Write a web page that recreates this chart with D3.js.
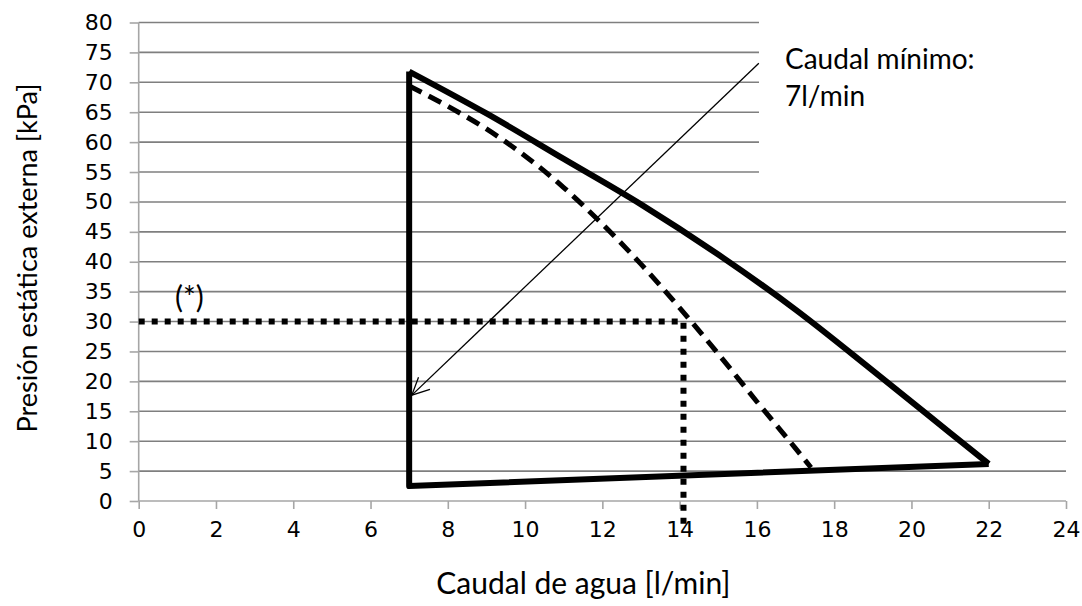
<!DOCTYPE html>
<html><head><meta charset="utf-8">
<script src="https://cdn.jsdelivr.net/npm/d3@7/dist/d3.min.js"></script>
<style>body{margin:0;background:#fff}</style>
</head><body>
<svg id="c" width="1082" height="606"></svg>
<script>
// ---- data ----
const xTickValues = [0,2,4,6,8,10,12,14,16,18,20,22,24];
const yTickValues = [0,5,10,15,20,25,30,35,40,45,50,55,60,65,70,75,80];
// upper limit of the working range (solid)
const upperLimit = [[7,71.8],[9,64.8],[11,57.2],[13,49.6],[15,41.2],[17,32],[19,21.8],[21,11.4],[22,6.2]];
// lower / left limits (solid)
const lowerLimit = [[22,6.2],[7,2.5],[7,71.8]];
// pump curve (dashed)
const pumpCurve = [[7,69.4],[8,66],[9,62.2],[10,57.7],[11,52.4],[12,46.3],[13,39.6],[14,32.3],[15,24.6],[16,16.6],[17,8.8],[17.4,5.6]];
// operating point lines (dotted)
const operatingPoint = [[0,30],[14.1,30],[14.1,-4.8]];
// annotation arrow
const arrowLine = [[16.05,73.2],[7.07,17.7]];
const annotationLines = ["Caudal mínimo:","7l/min"];
const starLabel = "(*)";
const xTitle = "Caudal de agua [l/min]";
const yTitle = "Presión estática externa [kPa]";

const svg = d3.select("#c");
const x = d3.scaleLinear().domain([0,24]).range([138.7,1066]);
const y = d3.scaleLinear().domain([0,80]).range([501,22.5]);

// gridlines
svg.append("g").selectAll("line").data(yTickValues.filter(v=>v>0)).join("line")
  .attr("x1", x(0)).attr("x2", d => d>=55 ? 759 : x(24))
  .attr("y1", d=>y(d)).attr("y2", d=>y(d))
  .attr("stroke","#7f7f7f").attr("stroke-width",1.6);

// axes
const tickFont = "'DejaVu Sans', Verdana, sans-serif";
const yAxis = svg.append("g").attr("transform",`translate(${x(0)},0)`)
  .call(d3.axisLeft(y).tickValues(yTickValues).tickSize(9).tickPadding(17));
const xAxis = svg.append("g").attr("transform",`translate(0,${y(0)})`)
  .call(d3.axisBottom(x).tickValues(xTickValues).tickSize(8).tickPadding(12));
[yAxis,xAxis].forEach(a=>{
  a.selectAll("path,line").attr("stroke","#a6a6a6").attr("stroke-width",1.6);
  a.selectAll("text").style("font-family",tickFont).style("font-size","22px").attr("fill","#000");
});
yAxis.select(".domain").attr("d",`M0,${y(80)}V${y(0)}`);
xAxis.select(".domain").attr("d",`M${x(0)},0H${x(24)}`);

const line = d3.line().x(d=>x(d[0])).y(d=>y(d[1]));

// dotted operating point
svg.append("path").attr("d", line(operatingPoint)).attr("fill","none")
  .attr("stroke","#000").attr("stroke-width",6).attr("stroke-dasharray","6,7");

// solid envelope
svg.append("path").attr("d", line(lowerLimit)).attr("fill","none")
  .attr("stroke","#000").attr("stroke-width",6).attr("stroke-linejoin","round");
svg.append("path").attr("d", d3.line().x(d=>x(d[0])).y(d=>y(d[1])).curve(d3.curveMonotoneX)(upperLimit))
  .attr("fill","none").attr("stroke","#000").attr("stroke-width",6).attr("stroke-linejoin","round");

// dashed pump curve
svg.append("path").attr("d", d3.line().x(d=>x(d[0])).y(d=>y(d[1])).curve(d3.curveMonotoneX)(pumpCurve))
  .attr("fill","none").attr("stroke","#000").attr("stroke-width",5).attr("stroke-dasharray","14,8");

// annotation arrow
const [a0,a1] = arrowLine;
const px0=x(a0[0]), py0=y(a0[1]), px1=x(a1[0]), py1=y(a1[1]);
svg.append("line").attr("x1",px0).attr("y1",py0).attr("x2",px1).attr("y2",py1)
  .attr("stroke","#000").attr("stroke-width",1.3);
const ang = Math.atan2(py0-py1, px0-px1);
const hl = 19, ha = 0.45;
svg.append("path").attr("d",
  `M${px1+hl*Math.cos(ang-ha)},${py1+hl*Math.sin(ang-ha)}L${px1},${py1}L${px1+hl*Math.cos(ang+ha)},${py1+hl*Math.sin(ang+ha)}`)
  .attr("fill","none").attr("stroke","#000").attr("stroke-width",1.3);

const textFont = "Lato, 'Open Sans', sans-serif";
svg.append("g").selectAll("text").data(annotationLines).join("text")
  .attr("x",785).attr("y",(d,i)=>69+i*37).attr("font-family",textFont).attr("font-size",28)
  .attr("fill","#000").text(d=>d);

svg.append("text").attr("x",175).attr("y",308).attr("font-family",textFont).attr("font-size",30)
  .text(starLabel);

svg.append("text").attr("x",(436.7+730)/2).attr("y",594).attr("text-anchor","middle")
  .attr("font-family",textFont).attr("font-size",30).text(xTitle);
svg.append("text").attr("transform",`translate(37,258) rotate(-90)`).attr("text-anchor","middle")
  .attr("font-family",textFont).attr("font-size",27).text(yTitle);
</script>
</body></html>
